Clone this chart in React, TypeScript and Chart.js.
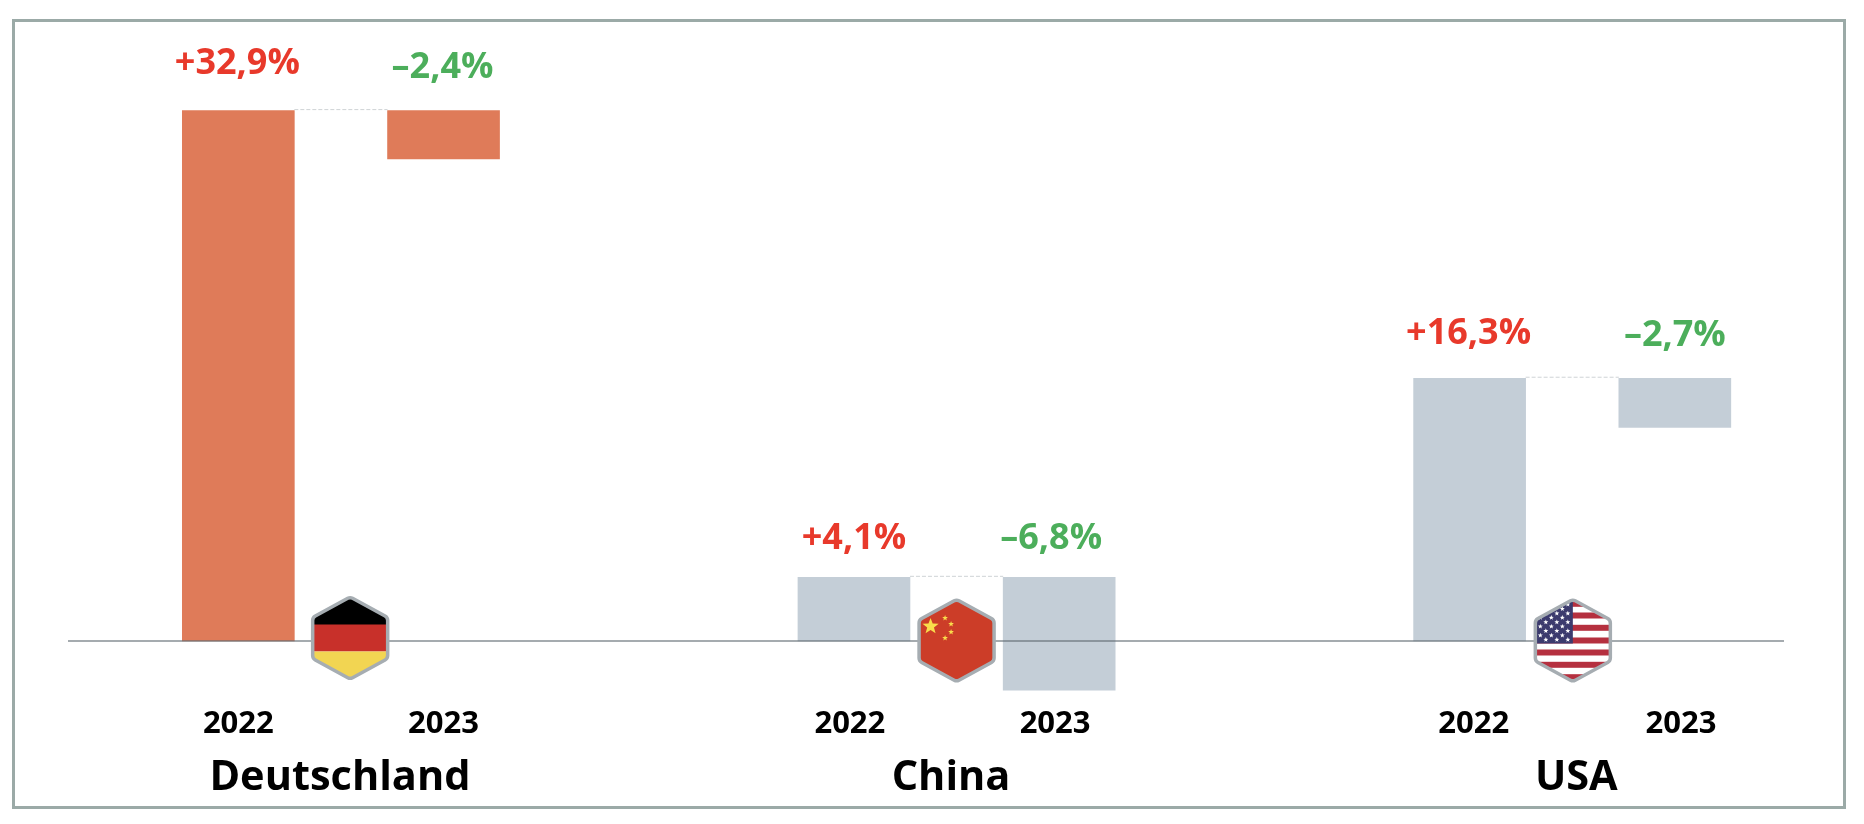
import React, { useEffect, useRef } from "react";
import { Chart, registerables } from "chart.js";

Chart.register(...registerables);

// ---- data ----
const positions = [0, 1, 3, 4, 6, 7];
const years = ["2022", "2023", "2022", "2023", "2022", "2023"];
const yearTickPositions = [0, 1, 2.98, 3.98, 6.02, 7.03];
const barStart = [0, 32.9, 0, 3.95, 0, 16.3];
const barEnd = [32.9, 29.9, 3.95, -3.05, 16.3, 13.25];
const changeLabels = ["+32,9%", "–2,4%", "+4,1%", "–6,8%", "+16,3%", "–2,7%"];
const groupNames = ["Deutschland", "China", "USA"];
const groupPositions = [0.495, 3.473, 6.52];
const flagNames = ["de", "cn", "us"];
const flagPositions = [0.545, 3.5, 6.503];

// ---- styles ----
const ORANGE = "#df7b59";
const SLATE = "#c4ced7";
const barColors = [ORANGE, ORANGE, SLATE, SLATE, SLATE, SLATE];
const RED = "#e8392b";
const GREEN = "#4cae5b";
const FONT = "'Open Sans', sans-serif";
const labelLift = [47, 43, 39, 39, 44, 42];
const labelNudge = [-1, -1, 0, -8, -1, 0];
const flagLift = [3, 0.5, 0.5];

function star(ctx: CanvasRenderingContext2D, x: number, y: number, r: number) {
  ctx.beginPath();
  for (let i = 0; i < 10; i++) {
    const rad = i % 2 === 0 ? r : r * 0.42;
    const a = -Math.PI / 2 + (i * Math.PI) / 5;
    const px = x + rad * Math.cos(a);
    const py = y + rad * Math.sin(a);
    if (i === 0) ctx.moveTo(px, py);
    else ctx.lineTo(px, py);
  }
  ctx.closePath();
  ctx.fill();
}

function hexPath(ctx: CanvasRenderingContext2D, cx: number, cy: number) {
  const w = 37.5;
  const h = 41;
  const s = 20.5;
  const r = 5;
  ctx.beginPath();
  ctx.moveTo(cx + w, cy);
  ctx.arcTo(cx + w, cy + s, cx, cy + h, r);
  ctx.arcTo(cx, cy + h, cx - w, cy + s, r);
  ctx.arcTo(cx - w, cy + s, cx - w, cy - s, r);
  ctx.arcTo(cx - w, cy - s, cx, cy - h, r);
  ctx.arcTo(cx, cy - h, cx + w, cy - s, r);
  ctx.arcTo(cx + w, cy - s, cx + w, cy, r);
  ctx.closePath();
}

function drawFlag(ctx: CanvasRenderingContext2D, name: string, cx: number, cy: number) {
  ctx.save();
  hexPath(ctx, cx, cy);
  ctx.save();
  ctx.clip();
  if (name === "de") {
    ctx.fillStyle = "#000000";
    ctx.fillRect(cx - 42, cy - 44, 84, 31);
    ctx.fillStyle = "#c8302a";
    ctx.fillRect(cx - 42, cy - 13.5, 84, 27);
    ctx.fillStyle = "#f2d552";
    ctx.fillRect(cx - 42, cy + 13.5, 84, 31);
  } else if (name === "cn") {
    ctx.fillStyle = "#cc3d28";
    ctx.fillRect(cx - 42, cy - 44, 84, 88);
    ctx.fillStyle = "#f9dc4b";
    star(ctx, cx - 26, cy - 14, 8.5);
    star(ctx, cx - 11.5, cy - 22.5, 3);
    star(ctx, cx - 5.5, cy - 16.5, 3);
    star(ctx, cx - 5.5, cy - 8.5, 3);
    star(ctx, cx - 11.5, cy - 2.5, 3);
  } else {
    ctx.fillStyle = "#ffffff";
    ctx.fillRect(cx - 42, cy - 44, 84, 88);
    ctx.fillStyle = "#b5303f";
    for (const off of [-36.7, -25, -12.7, 0, 12, 24.3, 36.7]) {
      ctx.fillRect(cx - 42, cy + off - 3, 84, 6);
    }
    ctx.fillStyle = "#3c3b6e";
    ctx.fillRect(cx - 42, cy - 44, 42, 47);
    ctx.fillStyle = "#ffffff";
    for (let row = 0; row < 9; row++) {
      const y = cy - 36 + row * 4.4;
      const shift = row % 2 === 0 ? 0 : 5.5;
      for (let col = 0; col < 4; col++) {
        star(ctx, cx - 5 - shift - col * 11, y, 2.6);
      }
    }
  }
  ctx.restore();
  hexPath(ctx, cx, cy);
  ctx.strokeStyle = "#a6adb2";
  ctx.lineWidth = 3.5;
  ctx.lineJoin = "round";
  ctx.stroke();
  ctx.restore();
}

const overlayPlugin = {
  id: "overlay",
  afterDatasetsDraw(chart: any) {
    const { ctx, chartArea, scales } = chart;
    const els = chart.getDatasetMeta(0).data;
    const zero = scales.y.getPixelForValue(0);

    ctx.save();
    // baseline
    ctx.strokeStyle = "rgba(95,105,112,0.75)";
    ctx.lineWidth = 1.5;
    ctx.beginPath();
    ctx.moveTo(chartArea.left, zero);
    ctx.lineTo(chartArea.right, zero);
    ctx.stroke();

    // connectors between the two bars of a group
    ctx.strokeStyle = "#cfd3d6";
    ctx.lineWidth = 1;
    ctx.setLineDash([4, 2]);
    for (let i = 0; i + 1 < els.length; i += 2) {
      const y = scales.y.getPixelForValue(barEnd[i]) - 1;
      ctx.beginPath();
      ctx.moveTo(els[i].x + els[i].width / 2, y);
      ctx.lineTo(els[i + 1].x - els[i + 1].width / 2, y);
      ctx.stroke();
    }
    ctx.setLineDash([]);

    // flags
    flagNames.forEach((name, i) => {
      drawFlag(ctx, name, scales.x.getPixelForValue(flagPositions[i]), zero - flagLift[i]);
    });

    // change labels
    ctx.font = `700 36px ${FONT}`;
    ctx.textAlign = "center";
    ctx.textBaseline = "middle";
    changeLabels.forEach((text, i) => {
      const top = Math.min(els[i].y, els[i].base);
      ctx.fillStyle = text.startsWith("+") ? RED : GREEN;
      ctx.fillText(text, els[i].x + labelNudge[i], top - labelLift[i]);
    });
    ctx.restore();
  },
};

const X_MIN = -0.83;
const X_MAX = 7.532;

export default function App() {
  const ref = useRef<HTMLCanvasElement>(null);

  useEffect(() => {
    if (!ref.current) return;
    const chart = new Chart(ref.current, {
      type: "bar",
      data: {
        datasets: [
          {
            data: positions.map((x, i) => ({ x, y: [barStart[i], barEnd[i]] })),
            backgroundColor: barColors,
            borderWidth: 0,
            borderSkipped: false,
            barThickness: 112,
          } as any,
        ],
      },
      options: {
        responsive: false,
        animation: false,
        devicePixelRatio: 1,
        layout: { padding: { left: 68, right: 80, top: 30, bottom: 0 } },
        plugins: { legend: { display: false }, tooltip: { enabled: false } },
        scales: {
          x: {
            type: "linear",
            position: "bottom",
            offset: false,
            min: X_MIN,
            max: X_MAX,
            weight: 0,
            border: { display: false },
            grid: { display: false, offset: false, drawTicks: false },
            afterBuildTicks: (s: any) => {
              s.ticks = yearTickPositions.map((value) => ({ value }));
            },
            afterFit: (s: any) => {
              s.height = 50;
            },
            ticks: {
              autoSkip: false,
              maxRotation: 0,
              padding: 6,
              color: "#000000",
              font: { family: FONT, size: 31, weight: "700" },
              callback: (v: any) => years[yearTickPositions.indexOf(Number(v))] ?? "",
            },
          },
          group: {
            type: "linear",
            position: "bottom",
            offset: false,
            min: X_MIN,
            max: X_MAX,
            weight: 1,
            border: { display: false },
            grid: { display: false, offset: false, drawTicks: false, drawOnChartArea: false },
            afterBuildTicks: (s: any) => {
              s.ticks = groupPositions.map((value) => ({ value }));
            },
            afterFit: (s: any) => {
              s.height = 74;
            },
            ticks: {
              autoSkip: false,
              maxRotation: 0,
              padding: 3,
              color: "#000000",
              font: { family: FONT, size: 41.5, weight: "700" },
              callback: (v: any) => groupNames[groupPositions.indexOf(Number(v))] ?? "",
            },
          },
          y: {
            type: "linear",
            display: false,
            min: -3.66,
            max: 37.9,
          },
        },
      } as any,
      plugins: [overlayPlugin],
    });
    return () => chart.destroy();
  }, []);

  return (
    <div style={{ position: "absolute", left: 0, top: 0, width: 1864, height: 824, background: "#fff" }}>
      <canvas ref={ref} width={1864} height={824} style={{ position: "absolute", left: 0, top: 0, display: "block" }} />
      <div
        style={{
          position: "absolute",
          left: 12,
          top: 19,
          width: 1828,
          height: 784,
          border: "3px solid #9baaa7",
          boxSizing: "content-box",
          pointerEvents: "none",
        }}
      />
    </div>
  );
}
